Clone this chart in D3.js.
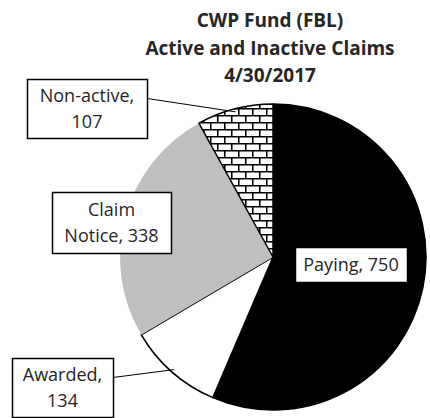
<!DOCTYPE html>
<html>
<head>
<meta charset="utf-8">
<script src="https://cdn.jsdelivr.net/npm/d3@7"></script>
<style>
  body { margin: 0; background: #fff; }
</style>
</head>
<body>
<div id="chart"></div>
<script>
// chart data
const categories = ["Paying", "Awarded", "Claim Notice", "Non-active"]
const counts = [750, 134, 338, 107]
const labelLines = [["Paying, 750"], ["Awarded,", "134"], ["Claim", "Notice, 338"], ["Non-active,", "107"]]
const titleLines = ["CWP Fund (FBL)", "Active and Inactive Claims", "4/30/2017"]

// label boxes in page coords, leader = draw a line to the slice
const labelBoxes = [
    {x: 295, y: 247, w: 112, h: 35, leader: false},
    {x: 12, y: 358, w: 101, h: 59, leader: true},
    {x: 52, y: 192, w: 119, h: 61, leader: false},
    {x: 27, y: 79, w: 120, h: 59, leader: true}
]

const width = 430, height = 418
const cx = 273, cy = 257, radius = 153

const svg = d3.select('#chart').append('svg')
    .attr('width', width)
    .attr('height', height)
    .attr('font-family', "'Open Sans', sans-serif")

// brick pattern for the Non-active slice
const defs = svg.append('defs')
const brick = defs.append('pattern')
    .attr('id', 'brick')
    .attr('patternUnits', 'userSpaceOnUse')
    .attr('x', cx).attr('y', cy)
    .attr('width', 14).attr('height', 14)
brick.append('rect').attr('width', 14).attr('height', 14).attr('fill', '#fff')
brick.append('path')
    .attr('d', 'M0,0.75H14M0,7.75H14M0.75,0V7M7.75,7V14')
    .attr('stroke', '#000').attr('stroke-width', 1.6)

const fills = ['#000', '#fff', '#bfbfbf', 'url(#brick)']
const strokes = ['#000', '#000', 'none', '#000']

const pie = d3.pie().sort(null).value(d => d)
const arcs = pie(counts)
const arc = d3.arc().innerRadius(0).outerRadius(radius)

const g = svg.append('g').attr('transform', `translate(${cx},${cy})`)

g.selectAll('path.slice')
    .data(arcs)
    .join('path')
    .attr('class', 'slice')
    .attr('d', arc)
    .attr('fill', (d, i) => fills[i])
    .attr('stroke', (d, i) => strokes[i])
    .attr('stroke-width', 1.5)
    .attr('stroke-linejoin', 'round')

// leader lines from label box to the slice's outer arc
labelBoxes.forEach((b, i) => {
    if (!b.leader) return
    const a = arcs[i]
    const mid = (a.startAngle + a.endAngle) / 2
    const px = cx + Math.sin(mid) * radius * 0.98
    const py = cy - Math.cos(mid) * radius * 0.98
    svg.append('line')
        .attr('x1', b.x + b.w).attr('y1', b.y + b.h * 0.33)
        .attr('x2', px).attr('y2', py)
        .attr('stroke', '#000').attr('stroke-width', 1)
})

// label boxes
const lab = svg.selectAll('g.label')
    .data(labelBoxes)
    .join('g')
    .attr('class', 'label')

lab.append('rect')
    .attr('x', d => d.x + 0.5).attr('y', d => d.y + 0.5)
    .attr('width', d => d.w).attr('height', d => d.h)
    .attr('fill', '#fff').attr('stroke', '#000').attr('stroke-width', 1.5)

lab.each(function (d, i) {
    const lines = labelLines[i]
    const sel = d3.select(this)
    const lh = 26
    const y0 = d.y + d.h / 2 - (lines.length - 1) * lh / 2
    lines.forEach((t, k) => {
        sel.append('text')
            .attr('x', d.x + d.w / 2)
            .attr('y', y0 + k * lh)
            .attr('dy', '0.35em')
            .attr('text-anchor', 'middle')
            .attr('font-size', 18)
            .attr('fill', '#262626')
            .text(t)
    })
})

// title
svg.append('g')
    .selectAll('text')
    .data(titleLines)
    .join('text')
    .attr('x', 270)
    .attr('y', (d, i) => 27 + i * 27.5)
    .attr('text-anchor', 'middle')
    .attr('font-size', 19)
    .attr('font-weight', 'bold')
    .attr('fill', '#262626')
    .text(d => d)
</script>
</body>
</html>
